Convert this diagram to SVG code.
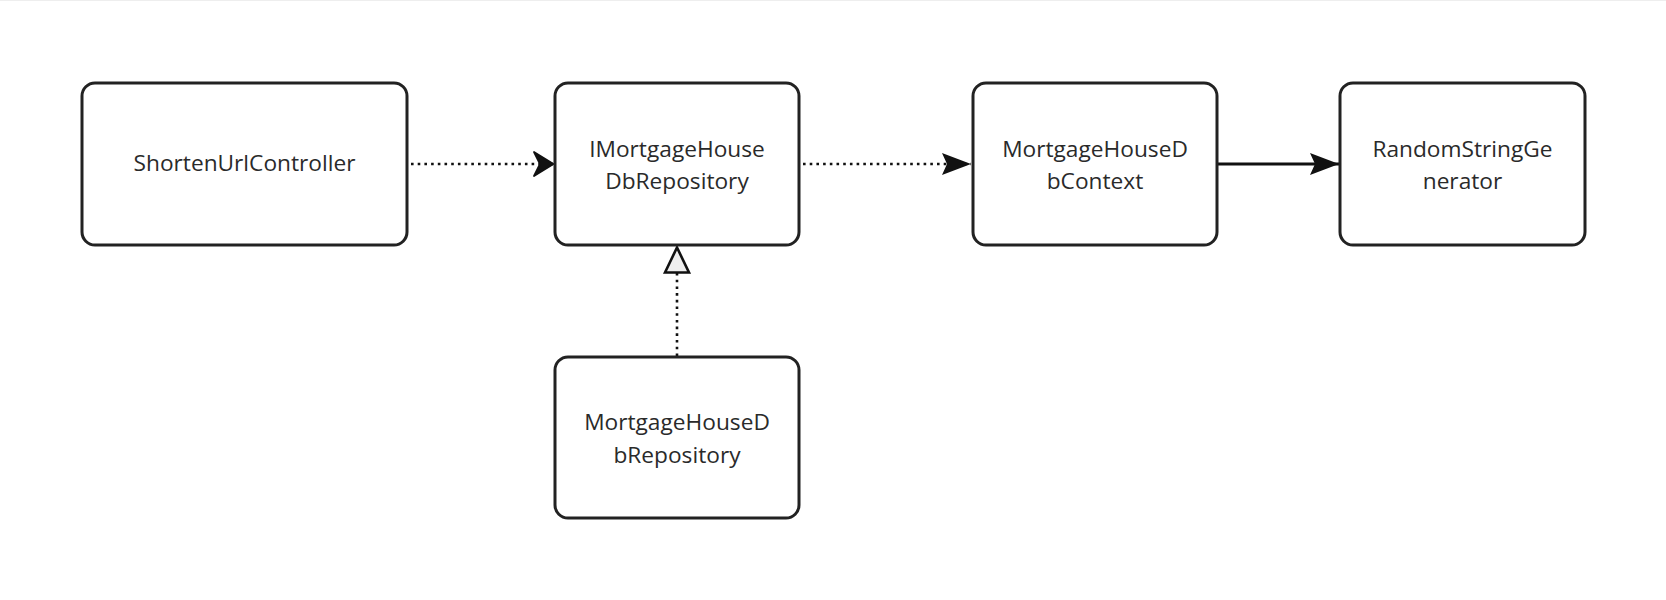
<svg xmlns="http://www.w3.org/2000/svg" width="1666" height="600" viewBox="0 0 1666 600">
<style>
.box{fill:#fff;stroke:#222;stroke-width:3}
.lbl{font-family:"Open Sans","Noto Sans",sans-serif;font-size:22.7px;fill:#2a2a2a;text-anchor:middle}
.dot{fill:none;stroke:#111;stroke-width:2.6;stroke-dasharray:2.6 4.1}
.solid{fill:none;stroke:#111;stroke-width:3}
</style>
<defs>
<marker id="headA" markerUnits="userSpaceOnUse" viewBox="-2 -14 24 28" refX="19" refY="0" markerWidth="24" markerHeight="28" orient="auto">
<path d="M0,-12 L19.5,0 L0,12 L6,0 Z" fill="#111" stroke="#111" stroke-width="1.8" stroke-linejoin="round"/>
</marker>
<marker id="headB" markerUnits="userSpaceOnUse" viewBox="-1 -12 32 24" refX="29" refY="0" markerWidth="32" markerHeight="24" orient="auto">
<path d="M0,-11 L29,0 L0,11 L5,0 Z" fill="#111"/>
</marker>
<marker id="tri" markerUnits="userSpaceOnUse" viewBox="-2 -15 30 30" refX="0" refY="0" markerWidth="30" markerHeight="30" orient="auto">
<path d="M0,-12 L25,0 L0,12 Z" fill="#eee" stroke="#111" stroke-width="2.6" stroke-linejoin="miter"/>
</marker>
</defs>
<rect x="0" y="0" width="1666" height="600" fill="#fff"/>
<rect x="0" y="0" width="1666" height="1" fill="#eee"/>
<g id="connectors">
<path class="dot" d="M411,164 L553,164" marker-end="url(#headA)"/>
<path class="dot" d="M803,164 L971,164" marker-end="url(#headB)"/>
<path class="solid" d="M1218,164 L1339,164" marker-end="url(#headB)"/>
<path class="dot" d="M677,356 L677,272.5" marker-end="url(#tri)"/>
</g>
<g id="ShortenUrlController">
<rect class="box" x="82" y="83" width="325" height="162" rx="13"/>
<text class="lbl" x="244.5" y="171">ShortenUrlController</text>
</g>
<g id="IMortgageHouseDbRepository">
<rect class="box" x="555" y="83" width="244" height="162" rx="13"/>
<text class="lbl" x="677" y="156.5">IMortgageHouse</text>
<text class="lbl" x="677" y="189">DbRepository</text>
</g>
<g id="MortgageHouseDbContext">
<rect class="box" x="973" y="83" width="244" height="162" rx="13"/>
<text class="lbl" x="1095" y="156.5">MortgageHouseD</text>
<text class="lbl" x="1095" y="189">bContext</text>
</g>
<g id="RandomStringGenerator">
<rect class="box" x="1340" y="83" width="245" height="162" rx="13"/>
<text class="lbl" x="1462.5" y="156.5">RandomStringGe</text>
<text class="lbl" x="1462.5" y="189">nerator</text>
</g>
<g id="MortgageHouseDbRepository">
<rect class="box" x="555" y="357" width="244" height="161" rx="13"/>
<text class="lbl" x="677" y="430">MortgageHouseD</text>
<text class="lbl" x="677" y="463">bRepository</text>
</g>
</svg>
